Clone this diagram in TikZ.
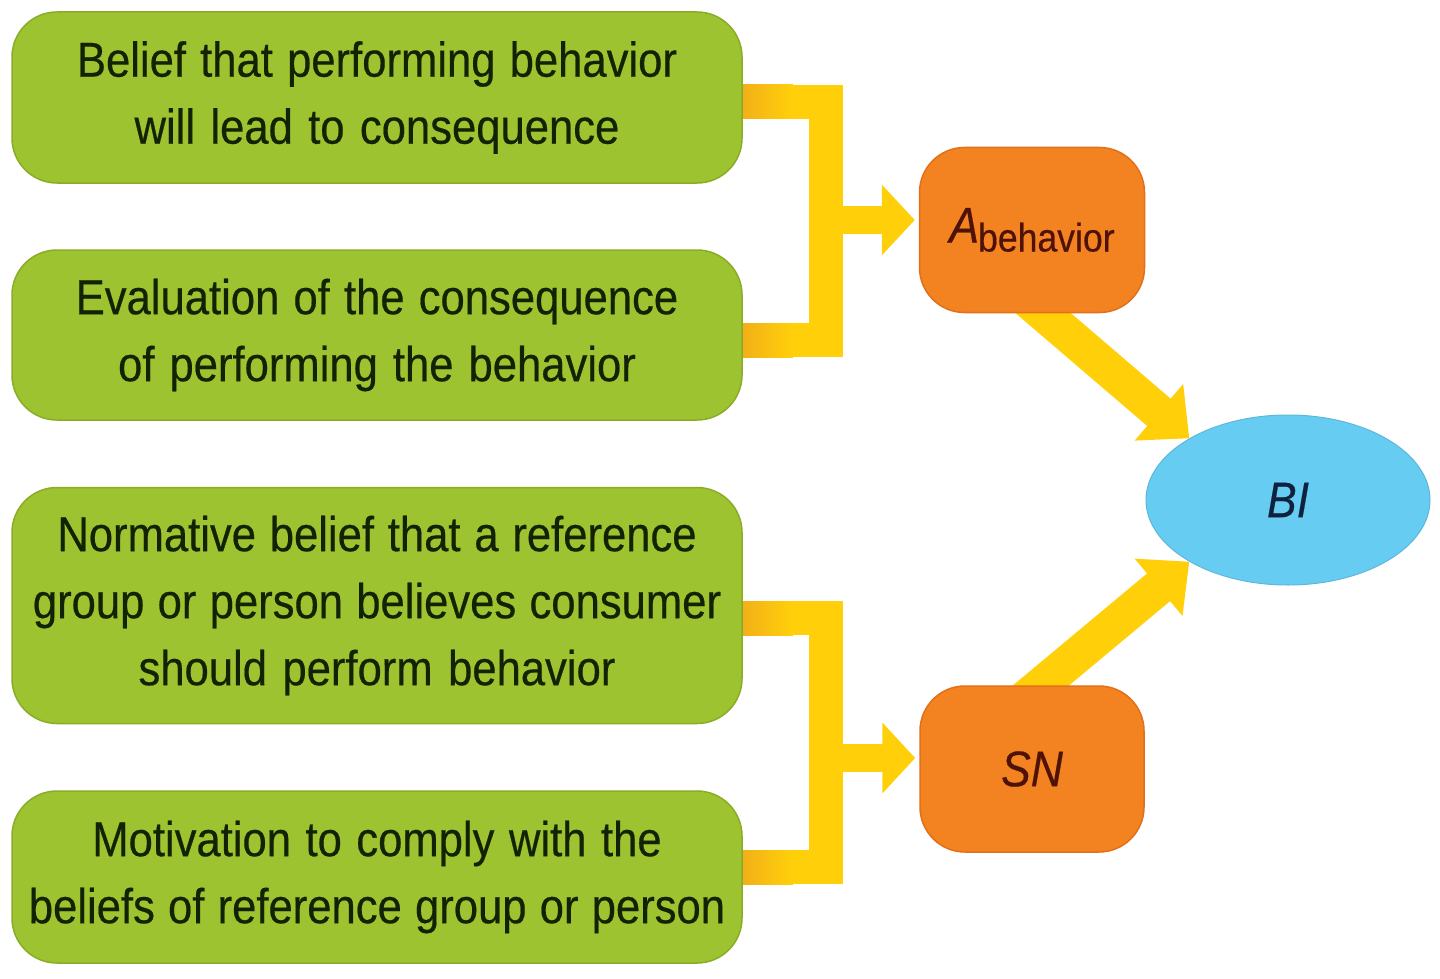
\documentclass[tikz,border=0pt]{standalone}
\usepackage{fontspec}
\setmainfont{Liberation Sans}[FakeStretch=0.89,FakeBold=0.4]
\usetikzlibrary{arrows.meta,shapes.geometric,calc,backgrounds}
\definecolor{gfill}{RGB}{158,195,48}
\definecolor{gedge}{RGB}{138,172,38}
\definecolor{gtext}{RGB}{20,34,4}
\definecolor{ofill}{RGB}{243,130,32}
\definecolor{oedge}{RGB}{226,112,24}
\definecolor{otext}{RGB}{78,18,8}
\definecolor{bfill}{RGB}{102,204,242}
\definecolor{btext}{RGB}{14,34,62}
\definecolor{yel}{RGB}{255,208,10}
\definecolor{ydark}{RGB}{242,176,24}
\newcommand\greentextfont{\fontsize{49}{67}\selectfont}
\newcommand\tightwords{\spaceskip=13pt plus 2pt minus 2pt\relax}
\begin{document}
\begin{tikzpicture}[x=1pt,y=-1pt,
  greenbox/.style={draw=gedge, line width=1.5pt, fill=gfill, rounded corners=45pt,
    minimum width=730pt, text width=716pt, align=center, text=gtext,
    font=\greentextfont, inner sep=0pt},
  orangebox/.style={draw=oedge, line width=1.5pt, fill=ofill, rounded corners=45pt,
    minimum width=225pt, minimum height=165pt, text=otext, inner sep=0pt},
  ovalnode/.style={ellipse, draw=bfill!90!black, line width=1pt, fill=bfill,
    minimum width=284pt, minimum height=170pt, inner sep=0pt, text=btext},
  bar/.style={yel, line width=34pt, line join=miter},
  stubarrow/.style={yel, line width=28pt, -{Triangle[length=33pt,width=69pt]}, shorten >=4pt},
  diagarrow/.style={yel, line width=36pt, -{Triangle[length=40pt,width=72pt]}}
]
\useasboundingbox (0,0) rectangle (1440,979);

% nodes
\node[greenbox, minimum height=171pt] (b1) at (377,97.5)
  {\tightwords Belief that performing behavior\\will lead to consequence};
\node[greenbox, minimum height=170pt] (b2) at (377,335)
  {\tightwords Evaluation of the consequence\\of performing the behavior};
\node[greenbox, minimum height=236pt] (b3) at (377,605.5)
  {\tightwords Normative belief that a reference\\group or person believes consumer\\should perform behavior};
\node[greenbox, minimum height=172pt] (b4) at (377,877)
  {\tightwords Motivation to comply with the\\beliefs of reference group or person};

\node[orangebox] (A) at (1032,230)
  {\fontsize{50}{50}\selectfont\itshape A\kern-1pt\raisebox{-9pt}{\fontsize{40}{40}\selectfont\upshape behavior}};
\node[orangebox, minimum width=224pt, minimum height=166pt] (SN) at (1032,769)
  {\fontsize{50}{50}\selectfont\itshape SN};
\node[ovalnode] (BI) at (1288,500) {\fontsize{50}{50}\selectfont\itshape BI};

% joints of the brackets
\coordinate (j1) at (826,220);
\coordinate (j2) at (826,758);

\begin{scope}[on background layer]
  \fill[white] (0,0) rectangle (1440,979);
  % upper bracket
  \draw[bar] ([xshift=-20pt,yshift=-4.5pt]b1.east) -| (j1) |- ([xshift=-20pt,yshift=-5pt]b2.east);
  \shade[left color=ydark, right color=yel] ([yshift=-4.5pt]b1.east) ++(0,-17) rectangle ++(50,34);
  \shade[left color=ydark, right color=yel] ([yshift=-5pt]b2.east) ++(0,-17) rectangle ++(50,34);
  \draw[stubarrow] (j1) -- (A.west |- j1);
  % lower bracket
  \draw[bar] ([xshift=-20pt,yshift=-12.5pt]b3.east) -| (j2) |- ([xshift=-20pt,yshift=10pt]b4.east);
  \shade[left color=ydark, right color=yel] ([yshift=-12.5pt]b3.east) ++(0,-17) rectangle ++(50,34);
  \shade[left color=ydark, right color=yel] ([yshift=10pt]b4.east) ++(0,-17) rectangle ++(50,34);
  \draw[stubarrow] (j2) -- (SN.west |- j2);
  % diagonal arrows into BI
  \draw[diagarrow] ([shift={(-19,-26)}]A.south) -- (BI.148);
  \draw[diagarrow] ([shift={(-22,26)}]SN.north) -- (BI.212);
\end{scope}
\end{tikzpicture}
\end{document}
